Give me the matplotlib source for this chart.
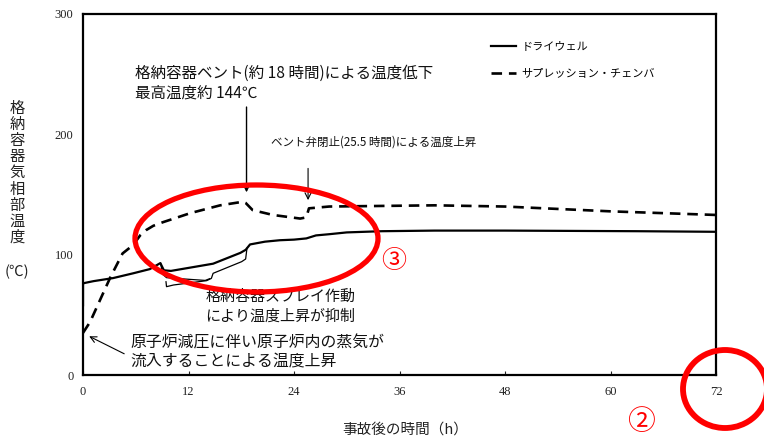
import matplotlib
matplotlib.use("Agg")
import matplotlib.pyplot as plt
from matplotlib.patches import Ellipse

# ---------------- data ----------------
dw_t = [0, 0, 0.2, 1.2, 3.4, 5.7, 7.6, 8.8, 9.2, 10.0, 12.0, 14.8, 17.9, 18.5, 19.0,
        20.7, 22.4, 24.0, 25.4, 26.5, 28.0, 30.0, 34.0, 40.0, 48.0, 54.0, 63.0, 72.0]
dw_v = [58, 76, 76.5, 78, 80.5, 84.5, 88, 93, 87, 86.5, 89.0, 92.5, 101.5, 104, 108.5,
        110.8, 112, 112.5, 113.5, 116, 117, 118.5, 119.5, 120, 120, 119.8, 119.5, 119]

sc_t = [0, 0.8, 3.1, 4.5, 5.7, 6.5, 7.2, 8.0, 9.1, 12.2, 15.6, 18.2, 18.5, 19.3, 21.6,
        24.7, 25.4, 25.7, 28.0, 34.0, 40.0, 48.0, 54.0, 60.0, 66.0, 72.0]
sc_v = [35, 44, 81, 101, 108, 116, 120.5, 124, 127, 134.5, 141, 144, 143, 137, 133,
        130, 131, 138.5, 140, 140.5, 141, 140, 138, 136, 134.5, 133]

series_labels = ["ドライウェル", "サプレッション・チェンバ"]
x_ticks = [0, 12, 24, 36, 48, 60, 72]
y_ticks = [0, 100, 200, 300]
x_label = "事故後の時間（h）"
y_label_chars = "格納容器気相部温度"
y_unit = "(℃)"

ann_vent = ["格納容器ベント(約 18 時間)による温度低下", "最高温度約 144℃"]
ann_close = "ベント弁閉止(25.5 時間)による温度上昇"
ann_spray = ["格納容器スプレイ作動", "により温度上昇が抑制"]
ann_depress = ["原子炉減圧に伴い原子炉内の蒸気が", "流入することによる温度上昇"]

# ---------------- figure ----------------
W, H = 764, 442
fig = plt.figure(figsize=(W / 100, H / 100), dpi=100)
ax = fig.add_axes([83 / W, (H - 375) / H, (716 - 83) / W, (375 - 14) / H])

CJK = ["Noto Sans CJK JP", "DejaVu Sans"]
SERIF = ["Liberation Serif", "DejaVu Serif"]

ax.plot(dw_t, dw_v, color="black", lw=1.6, label=series_labels[0])
ax.plot(sc_t, sc_v, color="black", lw=1.9, linestyle=(0, (4, 2.6)), label=series_labels[1])

ax.set_xlim(0, 72)
ax.set_ylim(0, 300)
ax.set_xticks(x_ticks)
ax.set_yticks(y_ticks)
ax.tick_params(axis="both", direction="in", length=3, width=0.8, colors="#222222",
               labelsize=9)
ax.tick_params(axis="x", pad=8)
ax.tick_params(axis="y", pad=7, length=0)
for lab in ax.get_xticklabels() + ax.get_yticklabels():
    lab.set_fontfamily(SERIF)
for s in ax.spines.values():
    s.set_linewidth(1.6)
    s.set_color("black")

leg = ax.legend(loc="upper left", bbox_to_anchor=(485 / W, 1 - 36 / H),
                bbox_transform=fig.transFigure, frameon=False,
                prop={"family": CJK, "size": 8}, handlelength=2.3,
                handletextpad=0.5, labelspacing=1.55, borderpad=0)

# axis labels
for i, ch in enumerate(y_label_chars):
    fig.text(17 / W, 1 - (108 + i * 16.2) / H, ch, family=CJK, fontsize=11,
             ha="center", va="center", color="#222222")
fig.text(17 / W, 1 - 272 / H, y_unit, family=CJK, fontsize=10.5,
         ha="center", va="center", color="#222222")
fig.text(405 / W, 1 - 430 / H, x_label, family=CJK, fontsize=10.5,
         ha="center", va="center", color="#222222")

# annotations
txt = dict(family=CJK, color="#111111", va="center", ha="left")
ax.text(5.9, 251, ann_vent[0], fontsize=11.2, **txt)
ax.text(5.9, 234, ann_vent[1], fontsize=11.2, **txt)
ax.annotate("", xy=(18.6, 149.5), xytext=(18.6, 225),
            arrowprops=dict(arrowstyle="->", lw=1.0, color="black", mutation_scale=12))
ax.text(21.4, 193.6, ann_close, fontsize=8.3, **txt)
ax.annotate("", xy=(25.6, 143), xytext=(25.6, 174),
            arrowprops=dict(arrowstyle="->", lw=0.8, color="black", mutation_scale=11))
ax.text(13.9, 64.8, ann_spray[0], fontsize=10.8, **txt)
ax.text(13.9, 48.2, ann_spray[1], fontsize=10.8, **txt)
ax.text(5.35, 26.3, ann_depress[0], fontsize=11.4, **txt)
ax.text(5.35, 11.0, ann_depress[1], fontsize=11.4, **txt)
ax.annotate("", xy=(0.42, 33.2), xytext=(4.97, 16.6),
            arrowprops=dict(arrowstyle="->", lw=0.8, color="black", mutation_scale=11))

# spray brackets (thin lines)
brA_t = [8.83, 9.06, 9.5, 10.5, 13.9, 14.4]
brA_v = [92.8, 83.7, 80.9, 80.3, 78.6, 80.0]
brB_t = [18.65, 18.5, 18.05, 14.8, 14.6, 14.07, 10.3, 9.5, 9.44]
brB_v = [105.3, 96.4, 94.2, 84.5, 80.3, 78.4, 74.8, 73.4, 77.5]
ax.plot(brA_t, brA_v, color="black", lw=0.9)
ax.plot(brB_t, brB_v, color="black", lw=0.9)

# red highlight marks (figure pixel coordinates)
def fx(px):
    return px / W

def fy(py):
    return 1 - py / H

fig.patches.append(Ellipse((fx(256.5), fy(238.5)), 243 / W, 107 / H,
                           transform=fig.transFigure, fill=False,
                           edgecolor="#ff0000", lw=3.8, zorder=10))
fig.patches.append(Ellipse((fx(725), fy(389)), 84 / W, 78 / H,
                           transform=fig.transFigure, fill=False,
                           edgecolor="#ff0000", lw=4.2, zorder=10))
fig.text(fx(394), fy(261), "③", family=CJK, fontsize=18, color="#ff0000",
         ha="center", va="center")
fig.text(fx(641), fy(421.5), "②", family=CJK, fontsize=20, color="#ff0000",
         ha="center", va="center")

fig.savefig("out.png", dpi=100)
